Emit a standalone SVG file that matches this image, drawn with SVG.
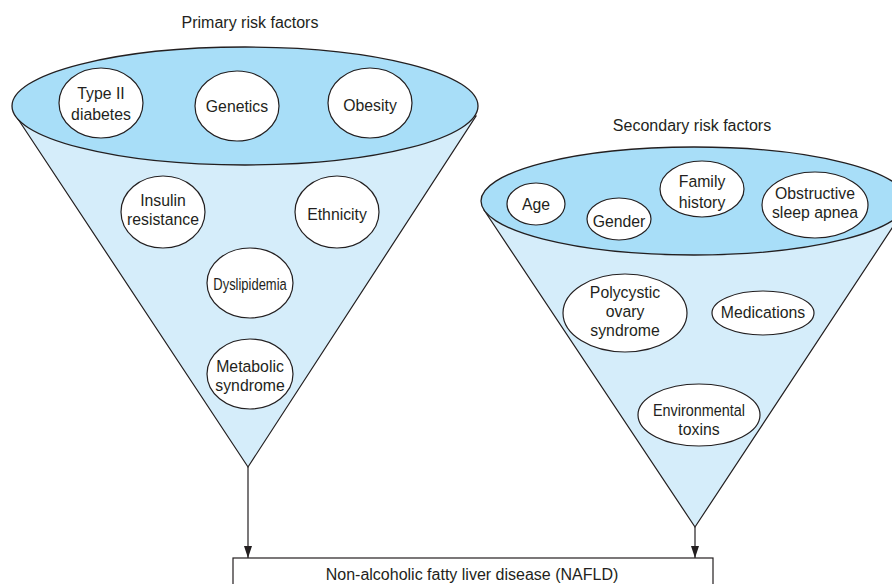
<svg xmlns="http://www.w3.org/2000/svg" width="892" height="584" viewBox="0 0 892 584">
<defs>
<style>
text{font-family:"Liberation Sans",Arial,sans-serif;font-size:16px;fill:#231f20;text-anchor:middle}
.n text{font-size:17px;transform-box:fill-box;transform-origin:center;transform:scaleX(0.93)}
.cone{fill:#d5edfa;stroke:#231f20;stroke-width:1.2}
.top{fill:#a8def8;stroke:#231f20;stroke-width:1.3}
.n ellipse{fill:#fff;stroke:#231f20;stroke-width:1.2}
.c{stroke:#231f20;stroke-width:1.2;fill:none}
</style>
<marker id="ah" viewBox="0 0 10 10" refX="10" refY="5" markerWidth="12" markerHeight="8" markerUnits="userSpaceOnUse" orient="auto-start-reverse" preserveAspectRatio="none">
<path d="M0,0 L10,5 L0,10 Z" fill="#231f20"/>
</marker>
</defs>
<rect width="892" height="584" fill="#fff"/>

<g id="primary-funnel">
<text x="250" y="28">Primary risk factors</text>
<path class="cone" d="M16,116 L248,467 L476,116 Z"/>
<ellipse class="top" cx="245" cy="106" rx="233" ry="59"/>
</g>
<g id="secondary-funnel">
<text x="692" y="131">Secondary risk factors</text>
<path class="cone" d="M484,210 L695,527 L904,210 Z"/>
<ellipse class="top" cx="694" cy="201" rx="213" ry="54"/>
</g>

<g id="type2" class="n"><ellipse cx="101" cy="103" rx="42" ry="35"/><text x="101" y="99">Type II</text><text x="101" y="120">diabetes</text></g>
<g id="genetics" class="n"><ellipse cx="237" cy="106" rx="42" ry="35"/><text x="237" y="112">Genetics</text></g>
<g id="obesity" class="n"><ellipse cx="370" cy="103" rx="42" ry="35"/><text x="370" y="111">Obesity</text></g>
<g id="insulin" class="n"><ellipse cx="163" cy="212" rx="42" ry="36"/><text x="163" y="206">Insulin</text><text x="163" y="225">resistance</text></g>
<g id="ethnicity" class="n"><ellipse cx="337" cy="212" rx="42" ry="36"/><text x="337" y="220">Ethnicity</text></g>
<g id="dyslipidemia" class="n"><ellipse cx="250" cy="283" rx="43" ry="35"/><text x="250" y="290" textLength="79" lengthAdjust="spacingAndGlyphs">Dyslipidemia</text></g>
<g id="metabolic" class="n"><ellipse cx="250" cy="374" rx="43" ry="35"/><text x="250" y="372">Metabolic</text><text x="250" y="391">syndrome</text></g>

<g id="age" class="n"><ellipse cx="536" cy="204" rx="29" ry="21"/><text x="536" y="210">Age</text></g>
<g id="gender" class="n"><ellipse cx="619" cy="219" rx="32" ry="21"/><text x="619" y="227">Gender</text></g>
<g id="family" class="n"><ellipse cx="702" cy="189" rx="42" ry="28"/><text x="702" y="187">Family</text><text x="702" y="208">history</text></g>
<g id="osa" class="n"><ellipse cx="815" cy="205" rx="53" ry="33"/><text x="815" y="199">Obstructive</text><text x="815" y="218">sleep apnea</text></g>
<g id="pcos" class="n"><ellipse cx="625" cy="313" rx="62" ry="39"/><text x="625" y="298">Polycystic</text><text x="625" y="317">ovary</text><text x="625" y="336">syndrome</text></g>
<g id="medications" class="n"><ellipse cx="763" cy="313" rx="51" ry="22"/><text x="763" y="318">Medications</text></g>
<g id="toxins" class="n"><ellipse cx="699" cy="415" rx="61" ry="31"/><text x="699" y="416" textLength="99" lengthAdjust="spacingAndGlyphs">Environmental</text><text x="699" y="435">toxins</text></g>

<g id="nafld"><rect x="233" y="558" width="480" height="40" fill="#fff" stroke="#231f20" stroke-width="1.2"/><text x="472" y="580">Non-alcoholic fatty liver disease (NAFLD)</text></g>

<g id="connectors">
<line class="c" x1="248" y1="467" x2="248" y2="558" marker-end="url(#ah)"/>
<line class="c" x1="695" y1="527" x2="695" y2="558" marker-end="url(#ah)"/>
</g>
</svg>
